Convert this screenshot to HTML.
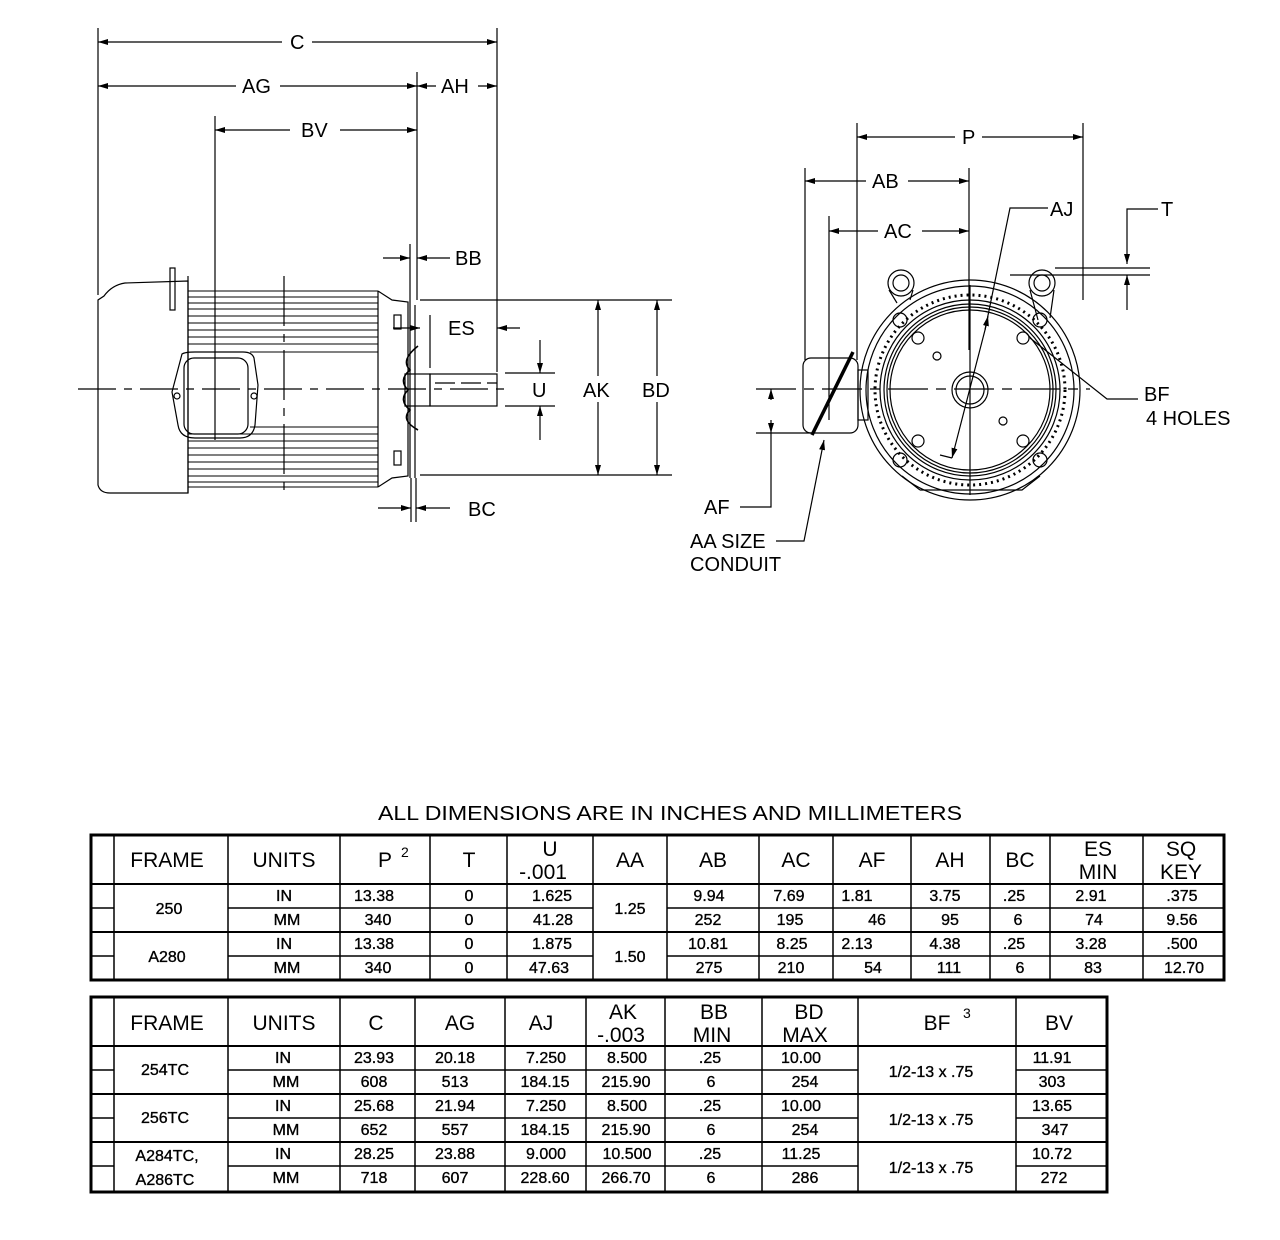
<!DOCTYPE html>
<html><head><meta charset="utf-8"><style>
html,body{margin:0;padding:0;background:#fff;}
svg{display:block;font-family:"Liberation Sans",Arial,sans-serif;}
</style></head><body>
<svg width="1280" height="1240" viewBox="0 0 1280 1240" xmlns="http://www.w3.org/2000/svg">
<defs>
<marker id="a" viewBox="0 0 10 6" refX="10" refY="3" markerWidth="10" markerHeight="6" orient="auto-start-reverse" markerUnits="userSpaceOnUse"><path d="M0,0 L10,3 L0,6 z" fill="#000"/></marker>
</defs>
<g stroke="#000" stroke-width="1.2" fill="none">
<line x1="98" y1="28" x2="98" y2="295"/>
<line x1="497" y1="28" x2="497" y2="372"/>
<line x1="417" y1="72" x2="417" y2="300"/>
<line x1="215" y1="116" x2="215" y2="440"/>
<line x1="98" y1="42" x2="282" y2="42" marker-start="url(#a)"/>
<line x1="312" y1="42" x2="497" y2="42" marker-end="url(#a)"/>
<line x1="98" y1="86" x2="236" y2="86" marker-start="url(#a)"/>
<line x1="280" y1="86" x2="417" y2="86" marker-end="url(#a)"/>
<line x1="417" y1="86" x2="436" y2="86" marker-start="url(#a)"/>
<line x1="478" y1="86" x2="497" y2="86" marker-end="url(#a)"/>
<line x1="215" y1="130" x2="290" y2="130" marker-start="url(#a)"/>
<line x1="340" y1="130" x2="417" y2="130" marker-end="url(#a)"/>
<line x1="383" y1="258" x2="410" y2="258" marker-end="url(#a)"/>
<line x1="450" y1="258" x2="417" y2="258" marker-end="url(#a)"/>
<line x1="410" y1="244" x2="410" y2="300"/>
<line x1="393" y1="328" x2="420" y2="328" marker-end="url(#a)"/>
<line x1="430" y1="315" x2="430" y2="368"/>
<line x1="520" y1="328" x2="497" y2="328" marker-end="url(#a)"/>
<line x1="505" y1="373" x2="555" y2="373"/>
<line x1="505" y1="406" x2="555" y2="406"/>
<line x1="540" y1="340" x2="540" y2="373" marker-end="url(#a)"/>
<line x1="540" y1="440" x2="540" y2="406" marker-end="url(#a)"/>
<line x1="420" y1="300" x2="672" y2="300"/>
<line x1="420" y1="475" x2="672" y2="475"/>
<line x1="598" y1="376" x2="598" y2="300" marker-end="url(#a)"/>
<line x1="598" y1="402" x2="598" y2="475" marker-end="url(#a)"/>
<line x1="657" y1="376" x2="657" y2="300" marker-end="url(#a)"/>
<line x1="657" y1="402" x2="657" y2="475" marker-end="url(#a)"/>
<line x1="411" y1="478" x2="411" y2="522"/>
<line x1="416" y1="478" x2="416" y2="522"/>
<line x1="378" y1="508" x2="411" y2="508" marker-end="url(#a)"/>
<line x1="450" y1="508" x2="416" y2="508" marker-end="url(#a)"/>
<path d="M188,281 L125,283 Q112,285 104,296 L98,300 L98,485 Q100,493 110,493 L188,493 Z"/>
<line x1="188" y1="276" x2="188" y2="493"/>
<rect x="170" y="268" width="5" height="42"/>
<g stroke-width="1">
<line x1="188" y1="291" x2="378" y2="291"/><line x1="188" y1="297" x2="378" y2="297"/><line x1="188" y1="303" x2="378" y2="303"/>
<line x1="188" y1="309" x2="378" y2="309"/><line x1="188" y1="316" x2="378" y2="316"/><line x1="188" y1="323" x2="378" y2="323"/>
<line x1="188" y1="330" x2="378" y2="330"/><line x1="188" y1="337" x2="378" y2="337"/><line x1="188" y1="344" x2="378" y2="344"/>
<line x1="250" y1="352" x2="378" y2="352"/>
<line x1="250" y1="427" x2="378" y2="427"/><line x1="188" y1="434" x2="378" y2="434"/><line x1="188" y1="441" x2="378" y2="441"/>
<line x1="188" y1="448" x2="378" y2="448"/><line x1="188" y1="455" x2="378" y2="455"/><line x1="188" y1="462" x2="378" y2="462"/>
<line x1="188" y1="469" x2="378" y2="469"/><line x1="188" y1="476" x2="378" y2="476"/><line x1="188" y1="482" x2="378" y2="482"/>
<line x1="188" y1="487" x2="378" y2="487"/>
</g>
<line x1="378" y1="291" x2="378" y2="487"/>
<path d="M378,291 L392,300 L408,302 L408,476 L392,478 L378,487"/>
<rect x="394" y="315" width="7" height="14"/><rect x="394" y="451" width="7" height="14"/>
<line x1="410" y1="300" x2="410" y2="478"/><line x1="415" y1="305" x2="415" y2="478"/>
<path d="M418,346 Q400,360 410,370 Q398,380 408,390 Q398,400 410,410 Q400,420 418,430" stroke-width="1.6"/>
<path d="M182,354 Q185,352 195,352 L243,352 Q252,352 254,358 L258,385 L255,425 Q253,438 240,438 L195,438 Q180,438 178,425 L172,392 Z"/>
<rect x="184" y="358" width="64" height="76" rx="10"/>
<circle cx="177" cy="396" r="3"/><circle cx="254" cy="396" r="3"/>
<rect x="405" y="374" width="25" height="32"/>
<rect x="430" y="374" width="67" height="32"/>
<line x1="78" y1="389" x2="510" y2="389" stroke-dasharray="38,8,8,8"/>
<line x1="284" y1="276" x2="284" y2="495" stroke-dasharray="50,8,8,8"/>
<line x1="435" y1="383" x2="497" y2="383" stroke-dasharray="20,6"/>
<line x1="857" y1="123" x2="857" y2="360"/>
<line x1="1083" y1="123" x2="1083" y2="300"/>
<line x1="805" y1="168" x2="805" y2="360"/>
<line x1="829" y1="216" x2="829" y2="420"/>
<line x1="969" y1="168" x2="969" y2="350"/>
<line x1="857" y1="137" x2="955" y2="137" marker-start="url(#a)"/>
<line x1="982" y1="137" x2="1083" y2="137" marker-end="url(#a)"/>
<line x1="805" y1="181" x2="866" y2="181" marker-start="url(#a)"/>
<line x1="908" y1="181" x2="969" y2="181" marker-end="url(#a)"/>
<line x1="829" y1="231" x2="878" y2="231" marker-start="url(#a)"/>
<line x1="922" y1="231" x2="969" y2="231" marker-end="url(#a)"/>
<circle cx="970" cy="390" r="110"/>
<circle cx="970" cy="390" r="104"/>
<circle cx="970" cy="390" r="90"/>
<circle cx="970" cy="390" r="86"/>
<circle cx="970" cy="390" r="83"/>
<circle cx="970" cy="390" r="80"/>
<circle cx="970" cy="390" r="95" stroke-dasharray="2,4" stroke-width="3"/>
<path d="M920,490 L1022,490 L1040,476 M920,490 L902,476"/>
<circle cx="970" cy="390" r="18"/><circle cx="970" cy="390" r="14"/>
<circle cx="901" cy="283" r="13"/><circle cx="901" cy="283" r="8"/>
<circle cx="1042" cy="283" r="13"/><circle cx="1042" cy="283" r="8"/>
<path d="M889,290 L897,303 M913,290 L910,300"/>
<path d="M1030,290 L1038,320 M1054,290 L1050,318"/>
<circle cx="900" cy="320" r="7"/><circle cx="1040" cy="320" r="7"/>
<circle cx="900" cy="460" r="7"/><circle cx="1040" cy="460" r="7"/>
<circle cx="918" cy="338" r="6"/><circle cx="1023" cy="338" r="6"/>
<circle cx="918" cy="441" r="6"/><circle cx="1023" cy="441" r="6"/>
<circle cx="937" cy="356" r="4"/><circle cx="1003" cy="421" r="4"/>
<rect x="803" y="358" width="55" height="75" rx="8"/>
<rect x="858" y="370" width="10" height="50"/>
<line x1="812" y1="435" x2="853" y2="352" stroke-width="3.5"/>
<line x1="756" y1="389" x2="1090" y2="389" stroke-dasharray="40,8,10,8"/>
<line x1="970" y1="285" x2="970" y2="495"/>
<path d="M1048,208 L1010,208 L985,330 L952,458" marker-end="url(#a)"/>
<line x1="985" y1="330" x2="988" y2="316" marker-end="url(#a)"/>
<path d="M952,458 L940,455"/>
<path d="M1158,209 L1127,209 L1127,264" marker-end="url(#a)"/>
<line x1="1010" y1="275" x2="1150" y2="275"/>
<line x1="1055" y1="268" x2="1150" y2="268"/>
<line x1="1127" y1="310" x2="1127" y2="275" marker-end="url(#a)"/>
<path d="M1138,399 L1107,399 L1030,338"/>
<line x1="756" y1="433" x2="812" y2="433"/>
<line x1="771" y1="400" x2="771" y2="389" marker-end="url(#a)"/>
<line x1="771" y1="420" x2="771" y2="433" marker-end="url(#a)"/>
<path d="M771,433 L771,507 L740,507"/>
<path d="M776,541 L804,541 L824,440" marker-end="url(#a)"/>
</g>
<g font-size="20" fill="#000">
<text x="290" y="49">C</text><text x="242" y="93">AG</text><text x="441" y="93">AH</text>
<text x="301" y="137">BV</text><text x="455" y="265">BB</text><text x="448" y="335">ES</text>
<text x="532" y="397">U</text><text x="583" y="397">AK</text><text x="642" y="397">BD</text>
<text x="468" y="516">BC</text>
<text x="962" y="144">P</text><text x="872" y="188">AB</text><text x="884" y="238">AC</text>
<text x="1050" y="216">AJ</text><text x="1161" y="216">T</text>
<text x="1144" y="401">BF</text><text x="1146" y="425">4 HOLES</text>
<text x="704" y="514">AF</text><text x="690" y="548">AA SIZE</text><text x="690" y="571">CONDUIT</text>
<text x="378" y="820" textLength="584" lengthAdjust="spacingAndGlyphs">ALL DIMENSIONS ARE IN INCHES AND MILLIMETERS</text>
</g>
<g stroke="#000" fill="none">
<rect x="91" y="835" width="1133" height="145" stroke-width="3"/>
<g stroke-width="1.5">
<line x1="114" y1="835" x2="114" y2="980"/><line x1="228" y1="835" x2="228" y2="980"/>
<line x1="340" y1="835" x2="340" y2="980"/><line x1="430" y1="835" x2="430" y2="980"/>
<line x1="507" y1="835" x2="507" y2="980"/><line x1="593" y1="835" x2="593" y2="980"/>
<line x1="667" y1="835" x2="667" y2="980"/><line x1="759" y1="835" x2="759" y2="980"/>
<line x1="833" y1="835" x2="833" y2="980"/><line x1="911" y1="835" x2="911" y2="980"/>
<line x1="990" y1="835" x2="990" y2="980"/><line x1="1050" y1="835" x2="1050" y2="980"/>
<line x1="1143" y1="835" x2="1143" y2="980"/>
<line x1="91" y1="884" x2="1224" y2="884" stroke-width="2"/>
<line x1="91" y1="932" x2="1224" y2="932" stroke-width="2"/>
<line x1="91" y1="908" x2="114" y2="908"/><line x1="228" y1="908" x2="593" y2="908"/><line x1="667" y1="908" x2="1224" y2="908"/>
<line x1="91" y1="956" x2="114" y2="956"/><line x1="228" y1="956" x2="593" y2="956"/><line x1="667" y1="956" x2="1224" y2="956"/>
</g></g>
<g font-size="21" text-anchor="middle" fill="#000">
<text x="167" y="867">FRAME</text><text x="284" y="867">UNITS</text><text x="385" y="867">P</text>
<text x="469" y="867">T</text><text x="550" y="856">U</text><text x="543" y="879">-.001</text><text x="630" y="867">AA</text>
<text x="713" y="867">AB</text><text x="796" y="867">AC</text><text x="872" y="867">AF</text>
<text x="950" y="867">AH</text><text x="1020" y="867">BC</text><text x="1098" y="856">ES</text><text x="1098" y="879">MIN</text>
<text x="1181" y="856">SQ</text><text x="1181" y="879">KEY</text>
</g>
<text x="401" y="857" font-size="14" fill="#000">2</text>
<g font-size="16" text-anchor="middle" fill="#000" stroke="#000" stroke-width="0.35">
<text x="169" y="914">250</text><text x="167" y="962">A280</text>
<text x="630" y="914">1.25</text><text x="630" y="962">1.50</text>
<text x="284" y="901">IN</text><text x="287" y="925">MM</text><text x="284" y="949">IN</text><text x="287" y="973">MM</text>
<text x="374" y="901">13.38</text><text x="378" y="925">340</text><text x="374" y="949">13.38</text><text x="378" y="973">340</text>
<text x="469" y="901">0</text><text x="469" y="925">0</text><text x="469" y="949">0</text><text x="469" y="973">0</text>
<text x="552" y="901">1.625</text><text x="553" y="925">41.28</text><text x="552" y="949">1.875</text><text x="549" y="973">47.63</text>
<text x="709" y="901">9.94</text><text x="708" y="925">252</text><text x="708" y="949">10.81</text><text x="709" y="973">275</text>
<text x="789" y="901">7.69</text><text x="790" y="925">195</text><text x="792" y="949">8.25</text><text x="791" y="973">210</text>
<text x="857" y="901">1.81</text><text x="877" y="925">46</text><text x="857" y="949">2.13</text><text x="873" y="973">54</text>
<text x="945" y="901">3.75</text><text x="950" y="925">95</text><text x="945" y="949">4.38</text><text x="949" y="973">111</text>
<text x="1014" y="901">.25</text><text x="1018" y="925">6</text><text x="1014" y="949">.25</text><text x="1020" y="973">6</text>
<text x="1091" y="901">2.91</text><text x="1094" y="925">74</text><text x="1091" y="949">3.28</text><text x="1093" y="973">83</text>
<text x="1182" y="901">.375</text><text x="1182" y="925">9.56</text><text x="1182" y="949">.500</text><text x="1184" y="973">12.70</text>
</g>
<g stroke="#000" fill="none">
<rect x="91" y="997" width="1016" height="195" stroke-width="3"/>
<g stroke-width="1.5">
<line x1="114" y1="997" x2="114" y2="1192"/><line x1="228" y1="997" x2="228" y2="1192"/>
<line x1="340" y1="997" x2="340" y2="1192"/><line x1="415" y1="997" x2="415" y2="1192"/>
<line x1="505" y1="997" x2="505" y2="1192"/><line x1="586" y1="997" x2="586" y2="1192"/>
<line x1="665" y1="997" x2="665" y2="1192"/><line x1="762" y1="997" x2="762" y2="1192"/>
<line x1="858" y1="997" x2="858" y2="1192"/><line x1="1016" y1="997" x2="1016" y2="1192"/>
<line x1="91" y1="1046" x2="1107" y2="1046" stroke-width="2"/>
<line x1="91" y1="1094" x2="1107" y2="1094" stroke-width="2"/>
<line x1="91" y1="1142" x2="1107" y2="1142" stroke-width="2"/>
<line x1="91" y1="1070" x2="114" y2="1070"/><line x1="228" y1="1070" x2="858" y2="1070"/><line x1="1016" y1="1070" x2="1107" y2="1070"/>
<line x1="91" y1="1118" x2="114" y2="1118"/><line x1="228" y1="1118" x2="858" y2="1118"/><line x1="1016" y1="1118" x2="1107" y2="1118"/>
<line x1="91" y1="1166" x2="114" y2="1166"/><line x1="228" y1="1166" x2="858" y2="1166"/><line x1="1016" y1="1166" x2="1107" y2="1166"/>
</g></g>
<g font-size="21" text-anchor="middle" fill="#000">
<text x="167" y="1030">FRAME</text><text x="284" y="1030">UNITS</text><text x="376" y="1030">C</text>
<text x="460" y="1030">AG</text><text x="541" y="1030">AJ</text><text x="623" y="1019">AK</text><text x="621" y="1042">-.003</text>
<text x="714" y="1019">BB</text><text x="712" y="1042">MIN</text><text x="809" y="1019">BD</text><text x="805" y="1042">MAX</text>
<text x="937" y="1030">BF</text><text x="1059" y="1030">BV</text>
</g>
<text x="963" y="1018" font-size="14" fill="#000">3</text>
<g font-size="16" text-anchor="middle" fill="#000" stroke="#000" stroke-width="0.35">
<text x="165" y="1075">254TC</text><text x="165" y="1123">256TC</text>
<text x="167" y="1161">A284TC,</text><text x="165" y="1185">A286TC</text>
<text x="931" y="1077">1/2-13 x .75</text><text x="931" y="1125">1/2-13 x .75</text><text x="931" y="1173">1/2-13 x .75</text>
<text x="283" y="1063">IN</text><text x="286" y="1087">MM</text><text x="283" y="1111">IN</text><text x="286" y="1135">MM</text><text x="283" y="1159">IN</text><text x="286" y="1183">MM</text>
<text x="374" y="1063">23.93</text><text x="374" y="1087">608</text><text x="374" y="1111">25.68</text><text x="374" y="1135">652</text><text x="374" y="1159">28.25</text><text x="374" y="1183">718</text>
<text x="455" y="1063">20.18</text><text x="455" y="1087">513</text><text x="455" y="1111">21.94</text><text x="455" y="1135">557</text><text x="455" y="1159">23.88</text><text x="455" y="1183">607</text>
<text x="546" y="1063">7.250</text><text x="545" y="1087">184.15</text><text x="546" y="1111">7.250</text><text x="545" y="1135">184.15</text><text x="546" y="1159">9.000</text><text x="545" y="1183">228.60</text>
<text x="627" y="1063">8.500</text><text x="626" y="1087">215.90</text><text x="627" y="1111">8.500</text><text x="626" y="1135">215.90</text><text x="627" y="1159">10.500</text><text x="626" y="1183">266.70</text>
<text x="710" y="1063">.25</text><text x="711" y="1087">6</text><text x="710" y="1111">.25</text><text x="711" y="1135">6</text><text x="710" y="1159">.25</text><text x="711" y="1183">6</text>
<text x="801" y="1063">10.00</text><text x="805" y="1087">254</text><text x="801" y="1111">10.00</text><text x="805" y="1135">254</text><text x="801" y="1159">11.25</text><text x="805" y="1183">286</text>
<text x="1052" y="1063">11.91</text><text x="1052" y="1087">303</text><text x="1052" y="1111">13.65</text><text x="1055" y="1135">347</text><text x="1052" y="1159">10.72</text><text x="1054" y="1183">272</text>
</g>
</svg>
</body></html>
